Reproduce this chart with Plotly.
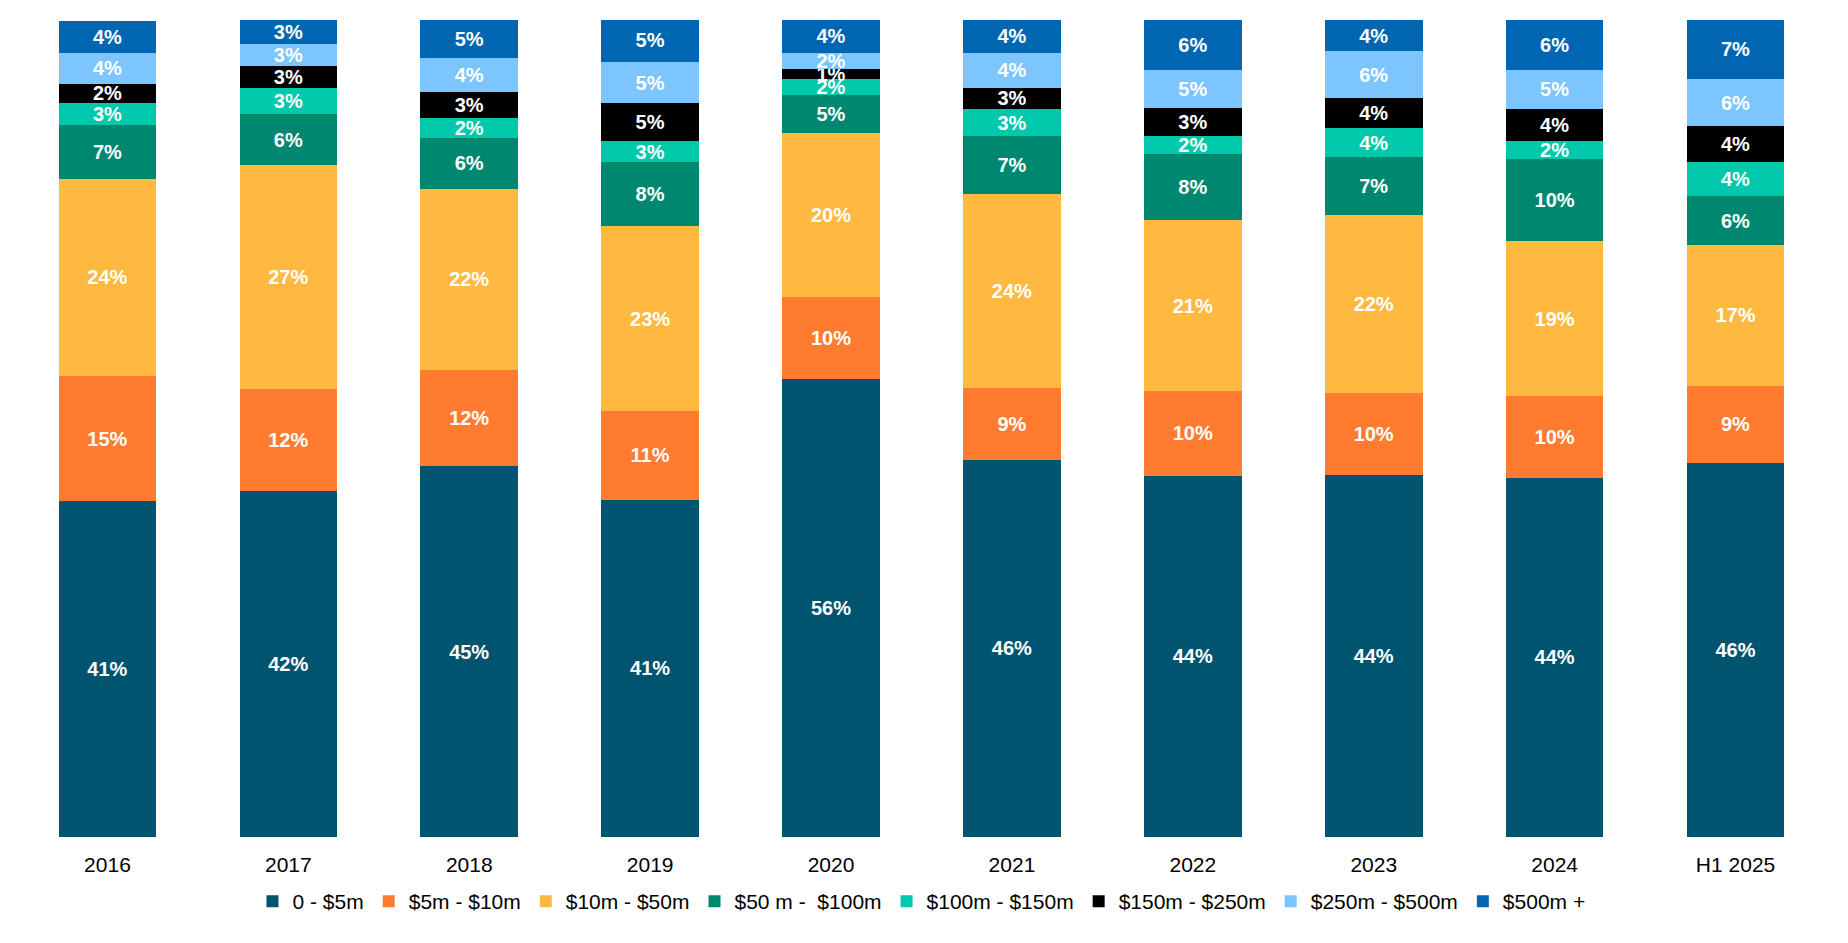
import plotly.graph_objects as go

categories = ["2016", "2017", "2018", "2019", "2020", "2021", "2022", "2023", "2024", "H1 2025"]

series_names = ["0 - $5m", "$5m - $10m", "$10m - $50m", "$50 m -  $100m",
                "$100m - $150m", "$150m - $250m", "$250m - $500m", "$500m +"]

v_0_5 = [41.1, 42.4, 45.4, 41.3, 56.1, 46.2, 44.2, 44.3, 44.0, 45.8]
v_5_10 = [15.3, 12.4, 11.8, 10.8, 10.0, 8.7, 10.4, 10.0, 10.0, 9.4]
v_10_50 = [24.2, 27.4, 22.1, 22.7, 20.1, 23.8, 20.9, 21.8, 18.9, 17.3]
v_50_100 = [6.6, 6.3, 6.3, 7.8, 4.6, 7.1, 8.1, 7.1, 10.1, 5.9]
v_100_150 = [2.7, 3.2, 2.4, 2.6, 2.0, 3.3, 2.2, 3.6, 2.2, 4.2]
v_150_250 = [2.3, 2.7, 3.2, 4.6, 1.2, 2.6, 3.4, 3.6, 3.9, 4.4]
v_250_500 = [3.8, 2.7, 4.1, 5.1, 2.0, 4.3, 4.7, 5.8, 4.8, 5.8]
v_500_plus = [3.9, 2.9, 4.7, 5.2, 4.0, 4.0, 6.1, 3.8, 6.2, 7.2]

colors = ["#005470", "#FF7B2F", "#FFB941", "#008770", "#00C8AA", "#000000", "#7DC5FF", "#0066B2"]

all_values = [v_0_5, v_5_10, v_10_50, v_50_100, v_100_150, v_150_250, v_250_500, v_500_plus]

FONT = "Liberation Sans, Arial, sans-serif"

fig = go.Figure()
for name, vals, col in zip(series_names, all_values, colors):
    fig.add_trace(go.Bar(
        x=categories, y=vals, name=name,
        marker=dict(color=col, line=dict(width=0)),
        text=[f"{round(v)}%" for v in vals],
        textposition="inside",
        insidetextanchor="middle",
        textangle=0,
        constraintext="none",
        textfont=dict(family=FONT, size=20, color="white", weight="bold"),
        hoverinfo="skip",
    ))

fig.update_layout(
    barmode="stack",
    bargap=0.46,
    width=1848, height=943,
    margin=dict(l=9, r=30, t=12, b=114),
    paper_bgcolor="white",
    plot_bgcolor="white",
    uniformtext=dict(minsize=20, mode="show"),
    font=dict(family=FONT, size=21, color="black"),
    legend=dict(orientation="h", x=0.5, xanchor="center", y=-0.079, yanchor="middle",
                font=dict(family=FONT, size=21, color="black"),
                traceorder="normal", itemwidth=30, tracegroupgap=0),
    xaxis=dict(showgrid=False, showline=False, zeroline=False, ticks="",
               tickfont=dict(family=FONT, size=21, color="black"), ticklabelstandoff=13),
    yaxis=dict(range=[0, 100], visible=False, showgrid=False),
)

fig.write_html("out.html")
